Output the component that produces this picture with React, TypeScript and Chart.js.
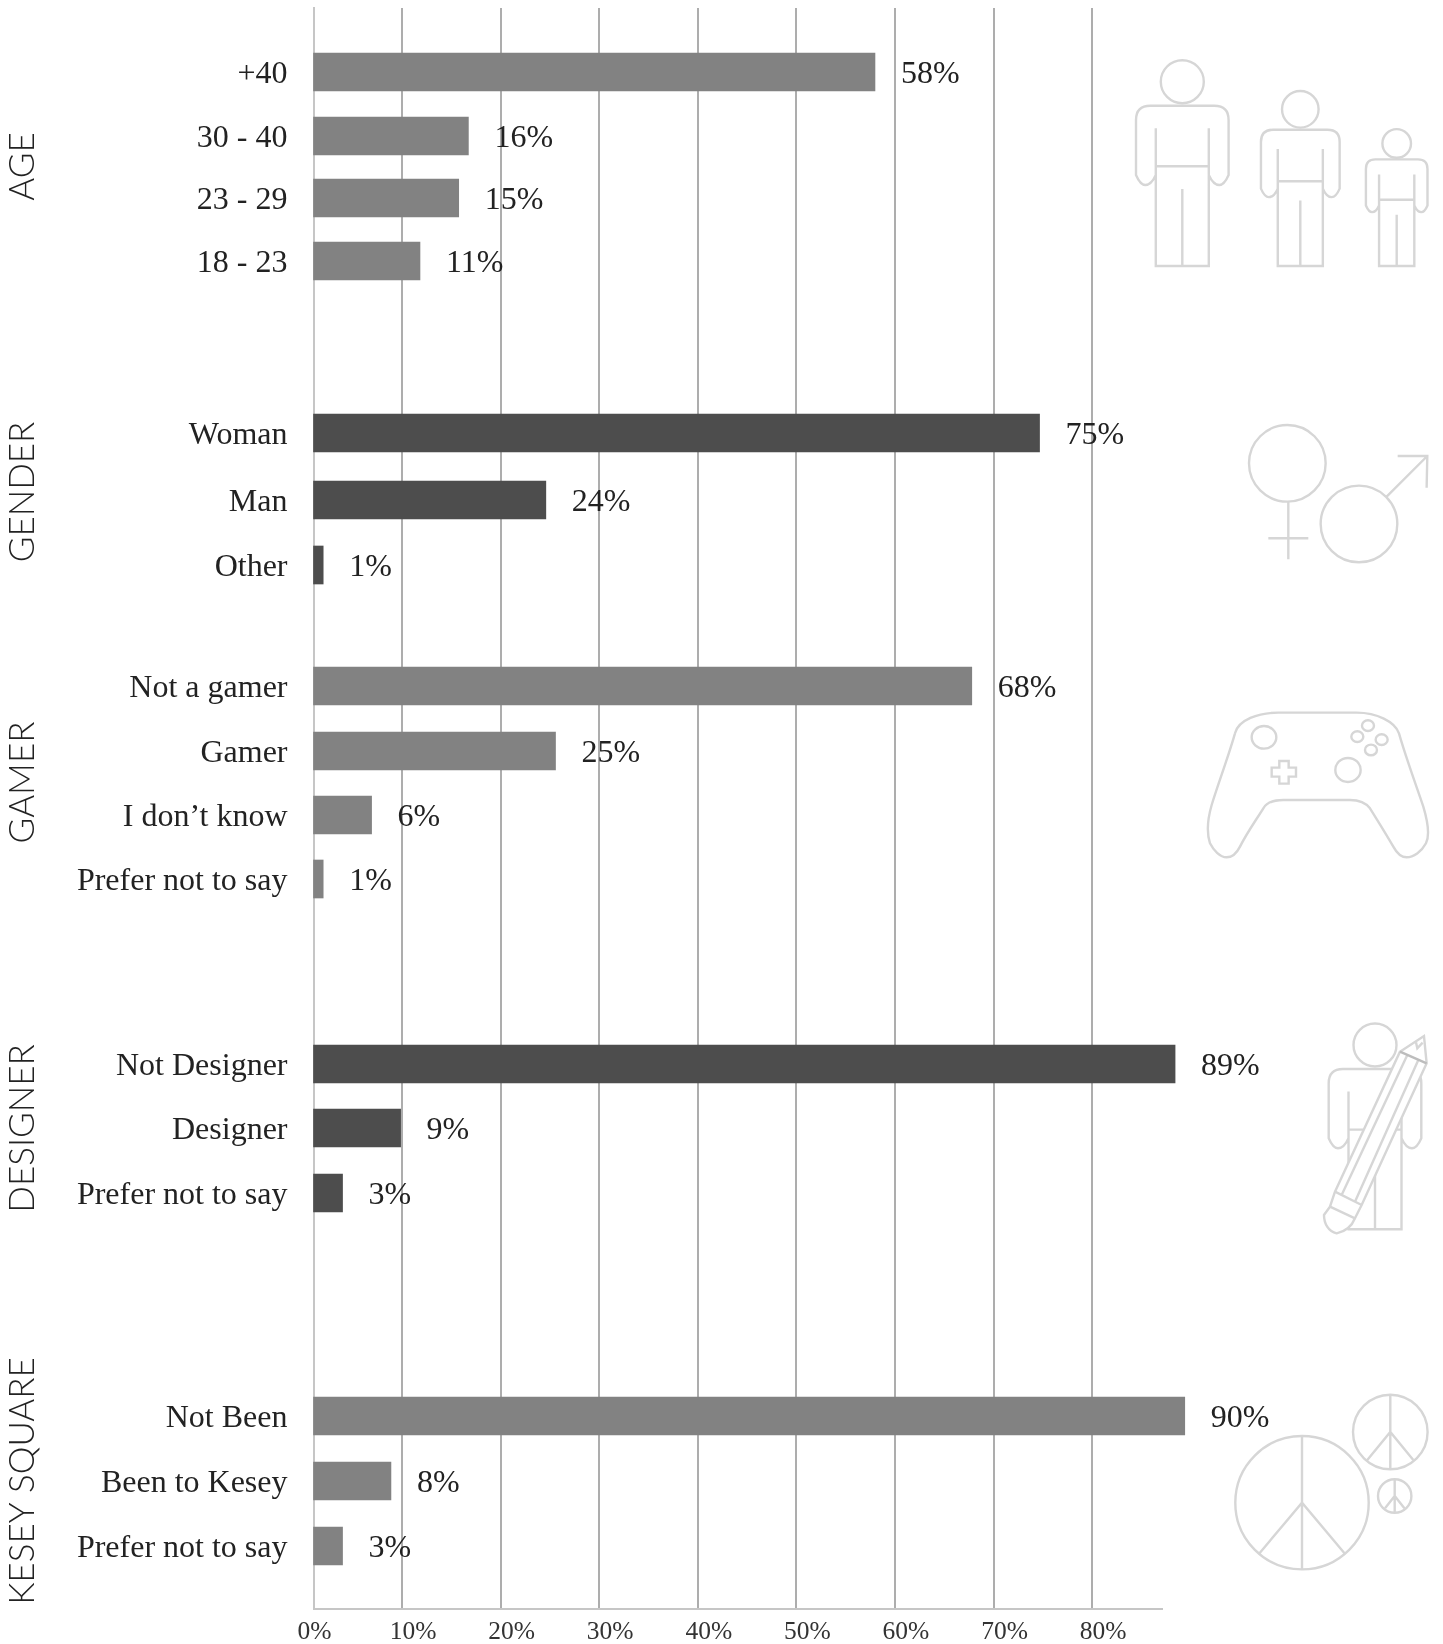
import React, { useEffect, useRef } from "react";
import { Chart, registerables } from "chart.js";

Chart.register(...registerables);

// Survey answers, top to bottom
const groupNames = ["AGE", "GENDER", "GAMER", "DESIGNER", "KESEY SQUARE"];
const ageLabels = ["+40", "30 - 40", "23 - 29", "18 - 23"];
const ageValues = [58, 16, 15, 11];
const genderLabels = ["Woman", "Man", "Other"];
const genderValues = [75, 24, 1];
const gamerLabels = ["Not a gamer", "Gamer", "I don\u2019t know", "Prefer not to say"];
const gamerValues = [68, 25, 6, 1];
const designerLabels = ["Not Designer", "Designer", "Prefer not to say"];
const designerValues = [89, 9, 3];
const keseyLabels = ["Not Been", "Been to Kesey", "Prefer not to say"];
const keseyValues = [90, 8, 3];
const axisTicks = [0, 10, 20, 30, 40, 50, 60, 70, 80];

// Row placement along the vertical axis, which has no meaning beyond spacing the groups
const rowTracks = [
  [64, 128, 190, 253],
  [425, 492, 557],
  [678, 743, 807, 871],
  [1056, 1120, 1185],
  [1408, 1473, 1538],
];
const titleNudge = [0, -7, 0, 0, 0];
const TRACK_LENGTH = 1601;

const GREY = "#828282";
const DARK = "#4d4d4d";
const ICON = "#d6d6d6";
const SERIF = "'Liberation Serif', serif";
const SANS = "Lato, sans-serif";

const groupLabels = [ageLabels, genderLabels, gamerLabels, designerLabels, keseyLabels];
const groupValues = [ageValues, genderValues, gamerValues, designerValues, keseyValues];
const rowLabels = groupLabels.flat();
const rowPositions = rowTracks.flat();
const barPoints = groupValues.flat().map((x, i) => ({ x, y: rowPositions[i] }));
const barColours = groupValues.flatMap((vals, g) => vals.map(() => (g % 2 === 0 ? GREY : DARK)));

const valueLabels = {
  id: "valueLabels",
  afterDatasetsDraw(chart: any) {
    const { ctx } = chart;
    ctx.save();
    ctx.font = `32px ${SERIF}`;
    ctx.fillStyle = "#222222";
    ctx.textAlign = "left";
    ctx.textBaseline = "middle";
    chart.getDatasetMeta(0).data.forEach((bar: any, i: number) => {
      ctx.fillText(`${barPoints[i].x}%`, bar.x + 26, bar.y + 3);
    });
    ctx.restore();
  },
};

const groupTitles = {
  id: "groupTitles",
  afterDraw(chart: any) {
    const { ctx } = chart;
    const y = chart.scales.y;
    ctx.save();
    ctx.font = `300 35px ${SANS}`;
    ctx.fillStyle = "#222222";
    ctx.textAlign = "center";
    ctx.textBaseline = "middle";
    groupNames.forEach((name, g) => {
      const track = rowTracks[g];
      const mid = (y.getPixelForValue(track[0]) + y.getPixelForValue(track[track.length - 1])) / 2;
      ctx.save();
      ctx.translate(23, mid + titleNudge[g]);
      ctx.rotate(-Math.PI / 2);
      ctx.fillText(name, 0, 0);
      ctx.restore();
    });
    ctx.restore();
  },
};

const lineProps = { fill: "none", stroke: ICON, strokeWidth: 2.4, vectorEffect: "non-scaling-stroke" } as const;

function Person({ x, y, s }: { x: number; y: number; s: number }) {
  return (
    <g transform={`translate(${x} ${y}) scale(${s})`} {...lineProps}>
      <circle cx={0} cy={-184.3} r={21.5} vectorEffect="non-scaling-stroke" />
      <path
        vectorEffect="non-scaling-stroke"
        d="M-26.5 -91 Q-31 -81 -37 -81 Q-42 -81 -46.3 -91 L-46.3 -146 Q-46.3 -160.3 -32 -160.3 L32 -160.3 Q46.3 -160.3 46.3 -146 L46.3 -91 Q42 -81 37 -81 Q31 -81 26.5 -91 M-26.5 -137.7 L-26.5 0 L26.5 0 L26.5 -137.7 M-26.5 -99.7 L26.5 -99.7 M0 -77 L0 0"
      />
    </g>
  );
}

function Peace({ cx, cy, r, ax, ay }: { cx: number; cy: number; r: number; ax: number; ay: number }) {
  return (
    <g {...lineProps}>
      <circle cx={cx} cy={cy} r={r} vectorEffect="non-scaling-stroke" />
      <path
        vectorEffect="non-scaling-stroke"
        d={`M${cx} ${cy - r} L${cx} ${cy + r} M${cx - ax} ${cy + ay} L${cx} ${cy} L${cx + ax} ${cy + ay}`}
      />
    </g>
  );
}

// Pale pictograms beside each group
function Pictograms() {
  return (
    <svg
      width={1443}
      height={1644}
      style={{ position: "absolute", left: 0, top: 0, pointerEvents: "none" }}
    >
      <Person x={1182.3} y={266} s={1} />
      <Person x={1300.3} y={266} s={0.85} />
      <Person x={1396.7} y={266} s={0.665} />

      <g transform="translate(1180 400) scale(0.3333)" {...lineProps}>
        <circle cx={322} cy={190} r={115} vectorEffect="non-scaling-stroke" />
        <path vectorEffect="non-scaling-stroke" d="M325 305 L325 478 M265 415 L385 415" />
        <circle cx={537} cy={372} r={115} vectorEffect="non-scaling-stroke" />
        <path vectorEffect="non-scaling-stroke" d="M620 290 L742 168 M653 168 L742 168 L740 263" />
        <path
          vectorEffect="non-scaling-stroke"
          d="M165 1000 C175 960 235 938 295 938 L530 938 C590 938 645 965 657 1000 C680 1080 710 1160 730 1220 C745 1270 748 1310 738 1330 C725 1355 700 1372 680 1372 C660 1372 648 1355 640 1340 C620 1305 595 1265 570 1225 C555 1205 530 1200 510 1200 L310 1200 C285 1200 262 1205 250 1225 C225 1265 200 1300 180 1340 C170 1360 155 1372 140 1372 C120 1372 100 1350 90 1330 C80 1300 82 1260 95 1215 C115 1150 145 1070 165 1000 Z"
        />
        <ellipse cx={252} cy={1012} rx={37} ry={34} vectorEffect="non-scaling-stroke" />
        <ellipse cx={504} cy={1110} rx={38} ry={36} vectorEffect="non-scaling-stroke" />
        <ellipse cx={564} cy={977} rx={18} ry={16} vectorEffect="non-scaling-stroke" />
        <ellipse cx={532} cy={1010} rx={18} ry={16} vectorEffect="non-scaling-stroke" />
        <ellipse cx={605} cy={1019} rx={18} ry={16} vectorEffect="non-scaling-stroke" />
        <ellipse cx={573} cy={1050} rx={18} ry={16} vectorEffect="non-scaling-stroke" />
        <path
          vectorEffect="non-scaling-stroke"
          d="M298 1083 H326 V1103 H348 V1130 H326 V1151 H298 V1130 H275 V1103 H298 Z"
        />
      </g>

      <Person x={1375} y={1229.3} s={1} />
      <g transform="translate(1200 1000) scale(0.3333)" {...lineProps}>
        <path
          vectorEffect="non-scaling-stroke"
          fill="#ffffff"
          d="M600 155 L672 108 L680 190 L485 615 L465 655 C455 680 435 695 410 700 C385 695 372 670 372 645 L390 620 L405 575 Z"
        />
        <path
          vectorEffect="non-scaling-stroke"
          d="M622 165 L425 585 M655 180 L465 605 M405 575 L485 615 M390 620 L465 655 M648 127 L652 145 L668 128"
        />
        <path vectorEffect="non-scaling-stroke" stroke="#bdbdbd" d="M600 155 L680 190" />
      </g>

      <Peace cx={1302} cy={1502.7} r={66.7} ax={42.7} ay={50.7} />
      <Peace cx={1390.3} cy={1432} r={37.3} ax={23} ay={28} />
      <Peace cx={1394.7} cy={1496} r={16.7} ax={9.7} ay={12.3} />
    </svg>
  );
}

export default function App() {
  const canvasRef = useRef<HTMLCanvasElement | null>(null);

  useEffect(() => {
    const chart = new Chart(canvasRef.current as HTMLCanvasElement, {
      type: "bar",
      data: {
        datasets: [
          {
            data: barPoints,
            backgroundColor: barColours,
            barThickness: 38,
            clip: false,
          } as any,
        ],
      },
      options: {
        indexAxis: "y",
        responsive: false,
        animation: false,
        layout: { padding: { top: 8, right: 281, left: 0, bottom: 0 } },
        plugins: { legend: { display: false }, tooltip: { enabled: false } },
        scales: {
          y: {
            type: "linear",
            reverse: true,
            offset: false,
            min: 0,
            max: TRACK_LENGTH,
            afterBuildTicks(scale: any) {
              scale.ticks = rowPositions.map((value) => ({ value }));
            },
            afterFit(scale: any) {
              scale.width = 313.5;
              scale.paddingTop = 0;
              scale.paddingBottom = 0;
            },
            ticks: {
              autoSkip: false,
              padding: 18,
              labelOffset: 3,
              color: "#222222",
              font: { family: SERIF, size: 32 },
              callback: (_v: any, i: number) => rowLabels[i],
            },
            grid: { display: false, offset: false },
            border: { color: "#c6c6c6", width: 2 },
          },
          x: {
            type: "linear",
            display: false,
            min: 0,
            max: 87.65,
          },
          // Printed scale: gridlines and labels sit on their own spacing
          x2: {
            type: "linear",
            axis: "x",
            position: "bottom",
            min: 1.024,
            max: 87.08,
            afterBuildTicks(scale: any) {
              scale.ticks = axisTicks.map((value) => ({ value }));
            },
            afterFit(scale: any) {
              scale.height = 35;
              scale.paddingLeft = 0;
              scale.paddingRight = 0;
            },
            ticks: {
              autoSkip: false,
              maxRotation: 0,
              padding: 8,
              labelOffset: 11,
              color: "#333333",
              font: { family: SERIF, size: 25.5 },
              callback: (v: any) => `${v}%`,
            },
            grid: {
              drawTicks: false,
              lineWidth: 2,
              color: (ctx: any) => (ctx.tick && ctx.tick.value === 0 ? "rgba(0,0,0,0)" : "#adadad"),
            },
            border: { color: "#c6c6c6", width: 2 },
          },
        },
      } as any,
      plugins: [valueLabels, groupTitles],
    });
    return () => chart.destroy();
  }, []);

  return (
    <div style={{ position: "absolute", left: 0, top: 0, width: 1443, height: 1644, background: "#ffffff" }}>
      <canvas ref={canvasRef} width={1443} height={1644} style={{ display: "block" }} />
      <Pictograms />
    </div>
  );
}
